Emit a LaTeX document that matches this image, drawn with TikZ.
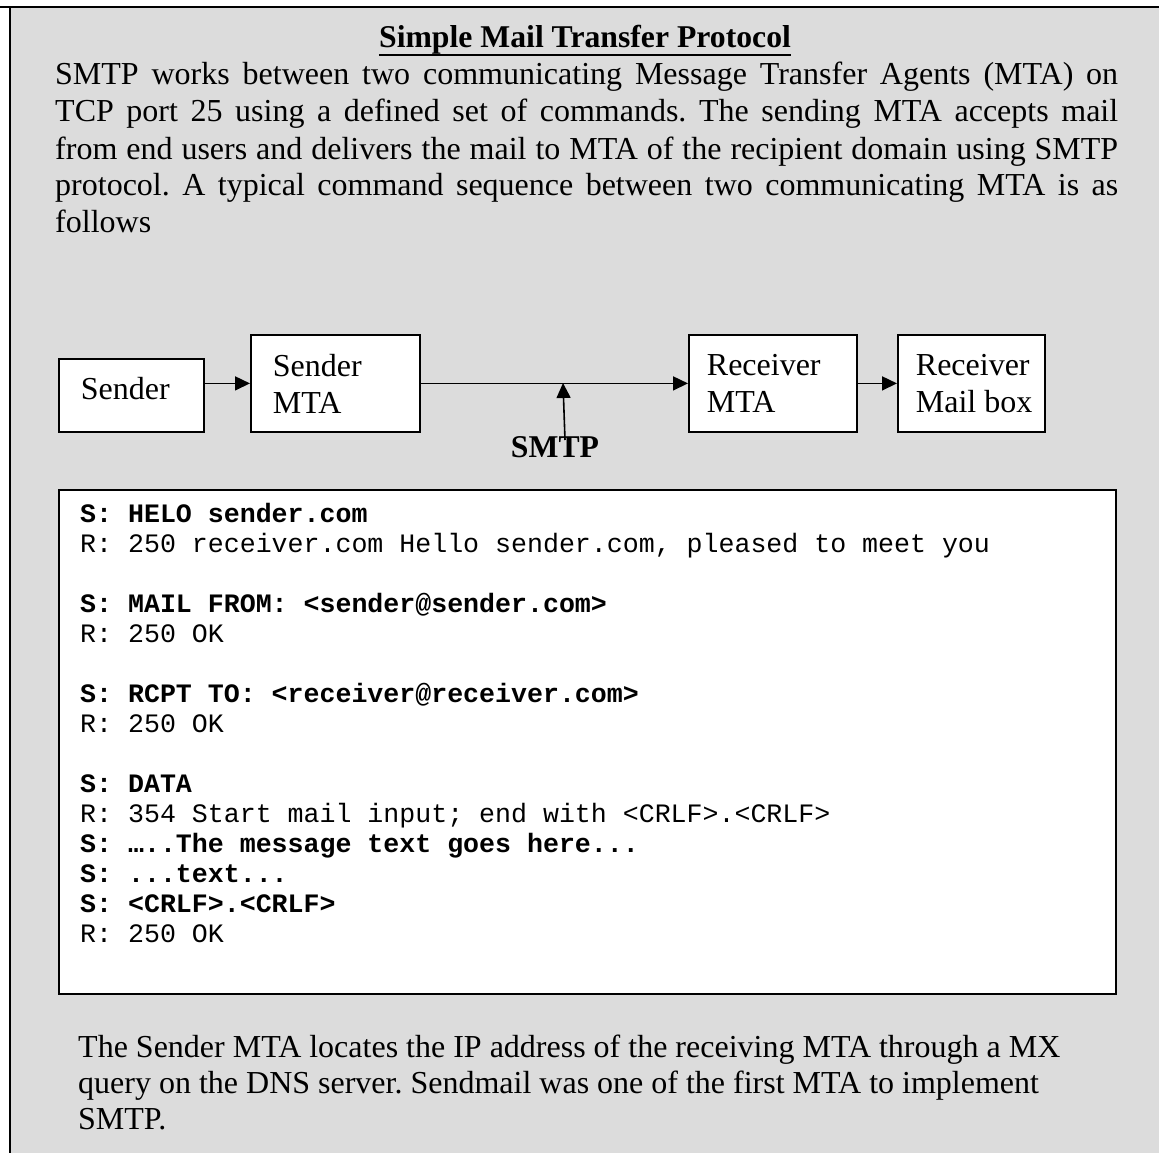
\documentclass[tikz,border=0pt]{standalone}
\usepackage{fontspec}
\setmainfont{Liberation Serif}
\setmonofont{Liberation Mono}
\usepackage{xcolor}
\usetikzlibrary{arrows.meta, positioning, calc}

\definecolor{panelgray}{RGB}{220,220,220}
\newcommand{\jline}[1]{\makebox[1063pt][s]{#1}}
\newcommand{\fontspaces}{\spaceskip=0pt\relax\xspaceskip=0pt\relax}
\frenchspacing

\begin{document}
\begin{tikzpicture}[
    x=1pt, y=-1pt,
    font=\fontsize{32pt}{37pt}\selectfont,
    every node/.append style={execute at begin node=\fontspaces},
    box/.style={draw, fill=white, line width=1.8pt, anchor=north west, inner ysep=0pt, minimum height=97pt},
    flow/.style={-{Triangle[length=15pt, width=14pt]}, line width=1.6pt},
    code/.style={font=\ttfamily\fontsize{26.6pt}{30pt}\selectfont, anchor=base west, inner sep=0pt, text width=1000pt}
]
    \useasboundingbox (0,0) rectangle (1159,1153);
    % Panel
    \fill[panelgray] (10,7) rectangle (1159,1153);
    \draw[line width=2pt] (0,7) -- (1159,7);
    \draw[line width=2pt] (10,7) -- (10,1153);

    % Title and introduction
    \node[anchor=base, inner sep=0pt, font=\bfseries\fontsize{31.7pt}{37pt}\selectfont] (title) at (585,48) {Simple Mail Transfer Protocol};
    \draw[line width=2pt] ([yshift=-7pt]title.base west) -- ([yshift=-7pt]title.base east);
    \node[anchor=base west, inner sep=0pt, text width=1063pt] (intro) at (55,85) {%
        \jline{SMTP works between two communicating Message Transfer Agents (MTA) on}\\
        \jline{TCP port 25 using a defined set of commands. The sending MTA accepts mail}\\
        \jline{from end users and delivers the mail to MTA of the recipient domain using SMTP}\\
        \jline{protocol. A typical command sequence between two communicating MTA is as}\\
        follows};

    % Mail path
    \node[box, minimum width=145pt, minimum height=73pt, inner xsep=22pt, text width=101pt, text height=22pt, text depth=13pt] (sender) at (58,358) {Sender};
    \node[box, minimum width=169pt, inner xsep=22pt, text width=125pt] (smta) at (250,334) {Sender\\MTA};
    \node[box, minimum width=168pt, inner xsep=18pt, text width=132pt] (rmta) at (688,334) {Receiver\\MTA};
    \node[box, minimum width=147pt, inner xsep=18pt, text width=111pt] (rbox) at (897,334) {Receiver\\\mbox{Mail box}};
    \node[anchor=base, inner sep=0pt, font=\bfseries\fontsize{31.7pt}{37pt}\selectfont] (smtp) at (555,457) {SMTP};
    \coordinate (smtpfoot) at (565,440);
    \coordinate (smtptip) at (563,383);

    \draw[flow] (sender.east |- smta.west) -- (smta.west);
    \draw[flow] (smta) -- (rmta);
    \draw[flow] (rmta) -- (rbox);
    \draw[flow] (smtpfoot) -- (smtptip);

    % Command sequence
    \node[draw, fill=white, line width=2pt, anchor=north west, inner sep=0pt, minimum width=1057pt, minimum height=504pt] (codebox) at (58,489) {};
    \node[code] (dialog) at ([xshift=22pt, yshift=-33pt]codebox.north west) {%
        \textbf{S: HELO sender.com}\\
        R: 250 receiver.com Hello sender.com, pleased to meet you\\[30pt]
        \textbf{S: MAIL FROM: <sender@sender.com>}\\
        R: 250 OK\\[30pt]
        \textbf{S: RCPT TO: <receiver@receiver.com>}\\
        R: 250 OK\\[30pt]
        \textbf{S: DATA}\\
        R: 354 Start mail input; end with <CRLF>.<CRLF>\\
        \textbf{S: …..The message text goes here...}\\
        \textbf{S: ...text...}\\
        \textbf{S: <CRLF>.<CRLF>}\\
        R: 250 OK};

    % Closing note
    \node[anchor=base west, inner sep=0pt, text width=1063pt, font=\fontsize{32pt}{36pt}\selectfont] (note) at (78,1057) {%
        The Sender MTA locates the IP address of the receiving MTA through a MX\\
        query on the DNS server. Sendmail was one of the first MTA to implement\\
        SMTP.};
\end{tikzpicture}
\end{document}
